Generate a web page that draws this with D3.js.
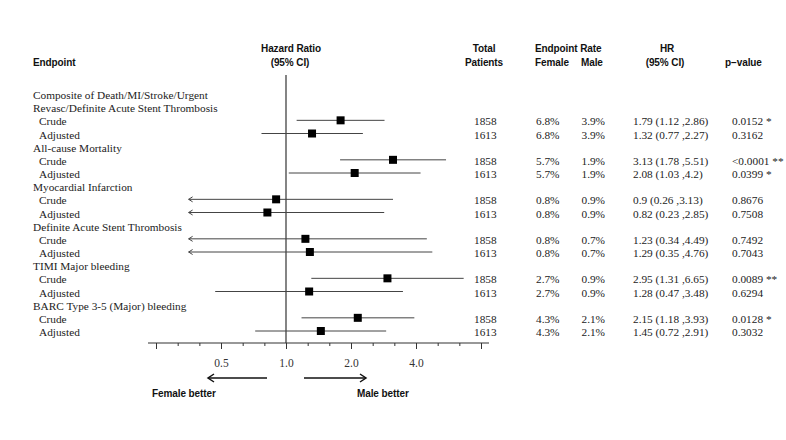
<!DOCTYPE html>
<html><head><meta charset="utf-8">
<script src="https://cdn.jsdelivr.net/npm/d3@7"></script>
<style>
html,body{margin:0;padding:0;background:#fff;}
svg{display:block;}
.hdr{font-family:"Liberation Sans",Arial,sans-serif;font-weight:bold;font-size:10px;letter-spacing:-0.1px;fill:#111;}
.body{font-family:"Liberation Serif","Times New Roman",serif;font-size:11.3px;fill:#222;}
</style></head>
<body>
<svg id="chart" width="786" height="440"></svg>
<script>
// ---- data ----
const endpoints = [
  ["Composite of Death/MI/Stroke/Urgent", "Revasc/Definite Acute Stent Thrombosis"],
  ["All-cause Mortality"],
  ["Myocardial Infarction"],
  ["Definite Acute Stent Thrombosis"],
  ["TIMI Major bleeding"],
  ["BARC Type 3-5 (Major) bleeding"]
];
const subgroups = ["Crude", "Adjusted"];
const hr     = [1.79, 1.32, 3.13, 2.08, 0.9, 0.82, 1.23, 1.29, 2.95, 1.28, 2.15, 1.45];
const ciLow  = [1.12, 0.77, 1.78, 1.03, 0.26, 0.23, 0.34, 0.35, 1.31, 0.47, 1.18, 0.72];
const ciHigh = [2.86, 2.27, 5.51, 4.2, 3.13, 2.85, 4.49, 4.76, 6.65, 3.48, 3.93, 2.91];
const totals = [1858, 1613, 1858, 1613, 1858, 1613, 1858, 1613, 1858, 1613, 1858, 1613];
const femaleRate = ["6.8%","6.8%","5.7%","5.7%","0.8%","0.8%","0.8%","0.8%","2.7%","2.7%","4.3%","4.3%"];
const maleRate   = ["3.9%","3.9%","1.9%","1.9%","0.9%","0.9%","0.7%","0.7%","0.9%","0.9%","2.1%","2.1%"];
const hrText = ["1.79 (1.12 ,2.86)","1.32 (0.77 ,2.27)","3.13 (1.78 ,5.51)","2.08 (1.03 ,4.2)",
  "0.9 (0.26 ,3.13)","0.82 (0.23 ,2.85)","1.23 (0.34 ,4.49)","1.29 (0.35 ,4.76)",
  "2.95 (1.31 ,6.65)","1.28 (0.47 ,3.48)","2.15 (1.18 ,3.93)","1.45 (0.72 ,2.91)"];
const pValues = ["0.0152 *","0.3162","<0.0001 **","0.0399 *","0.8676","0.7508","0.7492","0.7043",
  "0.0089 **","0.6294","0.0128 *","0.3032"];
const majorTicks = [0.25, 0.5, 1, 2, 4, 8];
const majorTickLabels = ["", "0.5", "1.0", "2.0", "4.0", ""];
const minorTicks = [0.315, 0.397, 0.63, 0.794, 1.26, 1.587, 2.52, 3.175, 5.04, 6.35];
const clipLow = 0.354;

// ---- layout ----
const svg = d3.select("#chart");
const x = d3.scaleLog().base(2).domain([0.25, 8]).range([156, 481]);
const y = d3.scaleLinear().domain([0, 18]).range([95, 332]);

// build row structure
const labelRows = [];
const dataRows = [];
let r = 0, k = 0;
endpoints.forEach(lines => {
  lines.forEach(l => { labelRows.push({text: l, row: r, indent: false}); r++; });
  subgroups.forEach(s => {
    labelRows.push({text: s, row: r, indent: true});
    dataRows.push({i: k, row: r}); k++; r++;
  });
});

// headers
const hdr = svg.append("g").attr("class", "hdr");
hdr.append("text").attr("x", 33).attr("y", 66).text("Endpoint");
hdr.append("text").attr("x", 291).attr("y", 52).attr("text-anchor", "middle").text("Hazard Ratio");
hdr.append("text").attr("x", 290).attr("y", 66).attr("text-anchor", "middle").text("(95% CI)");
hdr.append("text").attr("x", 484).attr("y", 52).attr("text-anchor", "middle").text("Total");
hdr.append("text").attr("x", 484).attr("y", 66).attr("text-anchor", "middle").text("Patients");
hdr.append("text").attr("x", 535).attr("y", 52).text("Endpoint Rate");
hdr.append("text").attr("x", 535).attr("y", 66).text("Female");
hdr.append("text").attr("x", 581).attr("y", 66).text("Male");
hdr.append("text").attr("x", 667).attr("y", 52).attr("text-anchor", "middle").text("HR");
hdr.append("text").attr("x", 665).attr("y", 66).attr("text-anchor", "middle").text("(95% CI)");
hdr.append("text").attr("x", 725).attr("y", 66).text("p\u2212value");

// row labels
svg.append("g").attr("class", "body").selectAll("text").data(labelRows).join("text")
  .attr("x", d => d.indent ? 39 : 33)
  .attr("y", d => y(d.row) + 4)
  .text(d => d.text);

// reference line
svg.append("line").attr("x1", x(1)).attr("x2", x(1)).attr("y1", 75).attr("y2", 343)
  .attr("stroke", "#333").attr("stroke-width", 1.2);

// CI lines
const ci = svg.append("g");
dataRows.forEach(d => {
  const lo = Math.max(ciLow[d.i], clipLow);
  const yy = y(d.row) - 1;
  ci.append("line").attr("x1", x(lo)).attr("x2", x(ciHigh[d.i]))
    .attr("y1", yy).attr("y2", yy).attr("stroke", "#444").attr("stroke-width", 1);
  if (ciLow[d.i] < clipLow) {
    const xa = x(lo);
    ci.append("path").attr("d", `M${xa + 4},${yy - 2.5} L${xa},${yy} L${xa + 4},${yy + 2.5}`)
      .attr("fill", "none").attr("stroke", "#444").attr("stroke-width", 1);
  }
  ci.append("rect").attr("x", x(hr[d.i]) - 4).attr("y", yy - 4).attr("width", 8).attr("height", 8)
    .attr("fill", "#000");
});

// table columns
const tbl = svg.append("g").attr("class", "body");
const cols = [[474, totals], [536, femaleRate], [581.5, maleRate], [633, hrText], [732, pValues]];
cols.forEach(([cx, arr]) => {
  tbl.append("g").selectAll("text").data(dataRows).join("text")
    .attr("x", cx).attr("y", d => y(d.row) + 4).text(d => arr[d.i]);
});

// axis
const axY = 343;
svg.append("line").attr("x1", x(0.25) - 8).attr("x2", x(8) + 8).attr("y1", axY).attr("y2", axY)
  .attr("stroke", "#333").attr("stroke-width", 1.2);
const ax = svg.append("g").attr("transform", `translate(0,${axY})`)
  .call(d3.axisBottom(x).tickValues(majorTicks).tickSize(6).tickPadding(10)
    .tickFormat((d, i) => majorTickLabels[i]));
ax.select(".domain").remove();
ax.selectAll("line").attr("stroke", "#333");
ax.selectAll("text").attr("font-family", "Liberation Serif, serif").attr("font-size", 11.5).attr("fill", "#333");
const axm = svg.append("g").attr("transform", `translate(0,${axY})`)
  .call(d3.axisBottom(x).tickValues(minorTicks).tickSize(3).tickFormat(""));
axm.select(".domain").remove();
axm.selectAll("line").attr("stroke", "#333");

// direction arrows
const ay = 378;
svg.append("line").attr("x1", 267).attr("x2", 208).attr("y1", ay).attr("y2", ay).attr("stroke", "#111").attr("stroke-width", 1.3);
svg.append("path").attr("d", `M${214},${ay - 4} L${208},${ay} L${214},${ay + 4}`).attr("fill", "none").attr("stroke", "#111").attr("stroke-width", 1.5);
svg.append("line").attr("x1", 304).attr("x2", 366).attr("y1", ay).attr("y2", ay).attr("stroke", "#111").attr("stroke-width", 1.3);
svg.append("path").attr("d", `M${360},${ay - 4} L${366},${ay} L${360},${ay + 4}`).attr("fill", "none").attr("stroke", "#111").attr("stroke-width", 1.5);
svg.append("text").attr("class", "hdr").attr("x", 152).attr("y", 397).text("Female better");
svg.append("text").attr("class", "hdr").attr("x", 357).attr("y", 397).text("Male better");
</script>
</body></html>
